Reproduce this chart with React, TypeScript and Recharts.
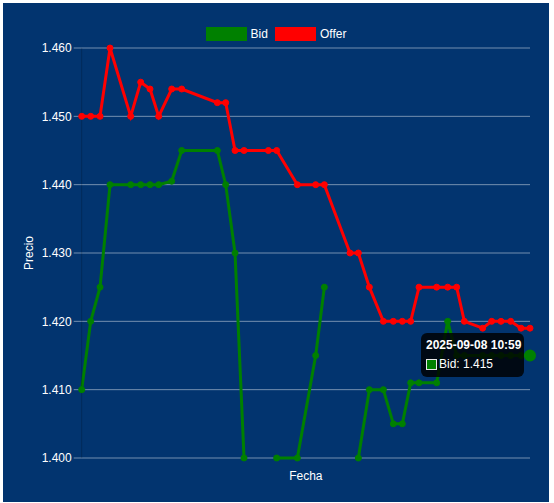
import React from "react";
import {
  CartesianGrid,
  Label,
  Legend,
  Line,
  LineChart,
  Tooltip,
  XAxis,
  YAxis,
} from "recharts";

// Puntos de la serie (hora de cada cotización)
const fechas = [
  "2025-09-07 12:34",
  "2025-09-07 13:01",
  "2025-09-07 13:29",
  "2025-09-07 13:59",
  "2025-09-07 15:01",
  "2025-09-07 15:31",
  "2025-09-07 15:59",
  "2025-09-07 16:25",
  "2025-09-07 17:04",
  "2025-09-07 17:34",
  "2025-09-07 19:21",
  "2025-09-07 19:46",
  "2025-09-07 20:14",
  "2025-09-07 20:41",
  "2025-09-07 21:54",
  "2025-09-07 22:19",
  "2025-09-07 23:21",
  "2025-09-08 00:16",
  "2025-09-08 00:42",
  "2025-09-08 01:59",
  "2025-09-08 02:24",
  "2025-09-08 02:57",
  "2025-09-08 03:39",
  "2025-09-08 04:09",
  "2025-09-08 04:36",
  "2025-09-08 05:01",
  "2025-09-08 05:26",
  "2025-09-08 06:19",
  "2025-09-08 06:52",
  "2025-09-08 07:19",
  "2025-09-08 07:42",
  "2025-09-08 08:37",
  "2025-09-08 09:04",
  "2025-09-08 09:32",
  "2025-09-08 10:01",
  "2025-09-08 10:32",
  "2025-09-08 10:59",
];

const bid = [
  1.41, 1.42, 1.425, 1.44, 1.44, 1.44, 1.44, 1.44, 1.4405, 1.445, 1.445, 1.44,
  1.43, 1.4, null, 1.4, 1.4, 1.415, 1.425, null, 1.4, 1.41, 1.41, 1.405, 1.405,
  1.411, 1.411, 1.411, 1.42, 1.415, 1.415, 1.415, 1.415, 1.415, 1.415, 1.415,
  1.415,
];

const offer = [
  1.45, 1.45, 1.45, 1.46, 1.45, 1.455, 1.454, 1.45, 1.454, 1.454, 1.452, 1.452,
  1.445, 1.445, 1.445, 1.445, 1.44, 1.44, 1.44, 1.43, 1.43, 1.425, 1.42, 1.42,
  1.42, 1.42, 1.425, 1.425, 1.425, 1.425, 1.42, 1.419, 1.42, 1.42, 1.42, 1.419,
  1.419,
];

const precioTicks = [1.4, 1.41, 1.42, 1.43, 1.44, 1.45, 1.46];

const BG = "#02346f";
const GREEN = "#008000";
const RED = "#ff0000";
const GRID = "rgba(255,255,255,0.45)";
const FONT = "'Liberation Sans', Arial, Helvetica, sans-serif";

const data = fechas.map((fecha, i) => ({
  fecha,
  t: Date.parse(fecha.replace(" ", "T")),
  bid: bid[i],
  offer: offer[i],
}));

function LegendItems() {
  const item = (color: string, text: string, gap: number) => (
    <div style={{ display: "flex", alignItems: "center", marginRight: gap }}>
      <span
        style={{
          display: "inline-block",
          width: 41,
          height: 14,
          background: color,
          marginRight: 4,
        }}
      />
      <span>{text}</span>
    </div>
  );
  return (
    <div
      style={{
        display: "flex",
        justifyContent: "center",
        height: 25,
        boxSizing: "border-box",
        fontSize: 12,
        lineHeight: "14px",
        color: "#fff",
        fontFamily: FONT,
      }}
    >
      {item(GREEN, "Bid", 7)}
      {item(RED, "Offer", 0)}
    </div>
  );
}

function BidTooltip({ active, payload }: any) {
  if (!active || !payload || !payload.length) return null;
  const p = payload.find((x: any) => x.dataKey === "bid") ?? payload[0];
  return (
    <div
      style={{
        background: "rgba(0,0,0,0.82)",
        borderRadius: 6,
        padding: "6px 3px 7px 5px",
        color: "#fff",
        fontFamily: FONT,
        fontSize: 12,
        whiteSpace: "nowrap",
      }}
    >
      <div style={{ fontWeight: "bold", lineHeight: "12px", marginBottom: 7 }}>
        {p.payload.fecha}
      </div>
      <div style={{ display: "flex", alignItems: "center", lineHeight: "12px" }}>
        <span
          style={{
            display: "inline-block",
            width: 9,
            height: 9,
            background: GREEN,
            border: "1px solid #e8e8e8",
            marginRight: 2,
          }}
        />
        <span>Bid: {Number(p.value).toFixed(3)}</span>
      </div>
    </div>
  );
}

const PrecioLabel = ({ viewBox }: any) => {
  const x = 30;
  const y = viewBox.y + viewBox.height / 2;
  return (
    <text
      x={x}
      y={y}
      transform={`rotate(-90 ${x} ${y})`}
      textAnchor="middle"
      fill="#fff"
      fontSize={12}
      fontFamily={FONT}
    >
      Precio
    </text>
  );
};

const FechaLabel = ({ viewBox }: any) => (
  <text
    x={viewBox.x + viewBox.width / 2}
    y={viewBox.y + 22}
    textAnchor="middle"
    fill="#fff"
    fontSize={12}
    fontFamily={FONT}
  >
    Fecha
  </text>
);

export default function App() {
  return (
    <div
      style={{
        position: "absolute",
        left: 0,
        top: 0,
        width: 554,
        height: 503,
        background: "#fff",
      }}
    >
      <div
        style={{
          position: "absolute",
          left: 3,
          top: 3,
          width: 546,
          height: 499,
          background: BG,
        }}
      >
        <LineChart
          width={546}
          height={499}
          data={data}
          margin={{ top: 20, right: 19, bottom: 14, left: 0 }}
        >
          <CartesianGrid stroke={GRID} vertical={false} />
          <Legend
            verticalAlign="top"
            content={<LegendItems />}
            wrapperStyle={{ left: 0, width: 546, top: 18 }}
          />
          <XAxis
            dataKey="t"
            type="number"
            domain={["dataMin", "dataMax"]}
            tick={false}
            tickLine={false}
            axisLine={false}
            height={30}
          >
            <Label content={<FechaLabel />} />
          </XAxis>
          <YAxis
            width={78.7}
            domain={[1.4, 1.46]}
            ticks={precioTicks}
            tickFormatter={(v: number) => v.toFixed(3)}
            tickSize={8}
            tickLine={{ stroke: GRID }}
            axisLine={{ stroke: "rgba(0,0,0,0.2)" }}
            tick={{ fill: "#fff", fontSize: 12, fontFamily: FONT }}
          >
            <Label content={<PrecioLabel />} />
          </YAxis>
          <Tooltip
            content={<BidTooltip />}
            cursor={false}
            active
            defaultIndex={36}
            position={{ x: 418, y: 330 }}
            isAnimationActive={false}
            wrapperStyle={{ outline: "none" }}
          />
          <Line
            dataKey="bid"
            name="Bid"
            stroke={GREEN}
            strokeWidth={3}
            dot={{ r: 3, fill: GREEN, stroke: GREEN, strokeWidth: 1 }}
            activeDot={{ r: 5, fill: GREEN, stroke: GREEN }}
            connectNulls={false}
            isAnimationActive={false}
          />
          <Line
            dataKey="offer"
            name="Offer"
            stroke={RED}
            strokeWidth={3}
            dot={{ r: 3, fill: RED, stroke: RED, strokeWidth: 1 }}
            activeDot={false}
            isAnimationActive={false}
          />
        </LineChart>
      </div>
    </div>
  );
}
